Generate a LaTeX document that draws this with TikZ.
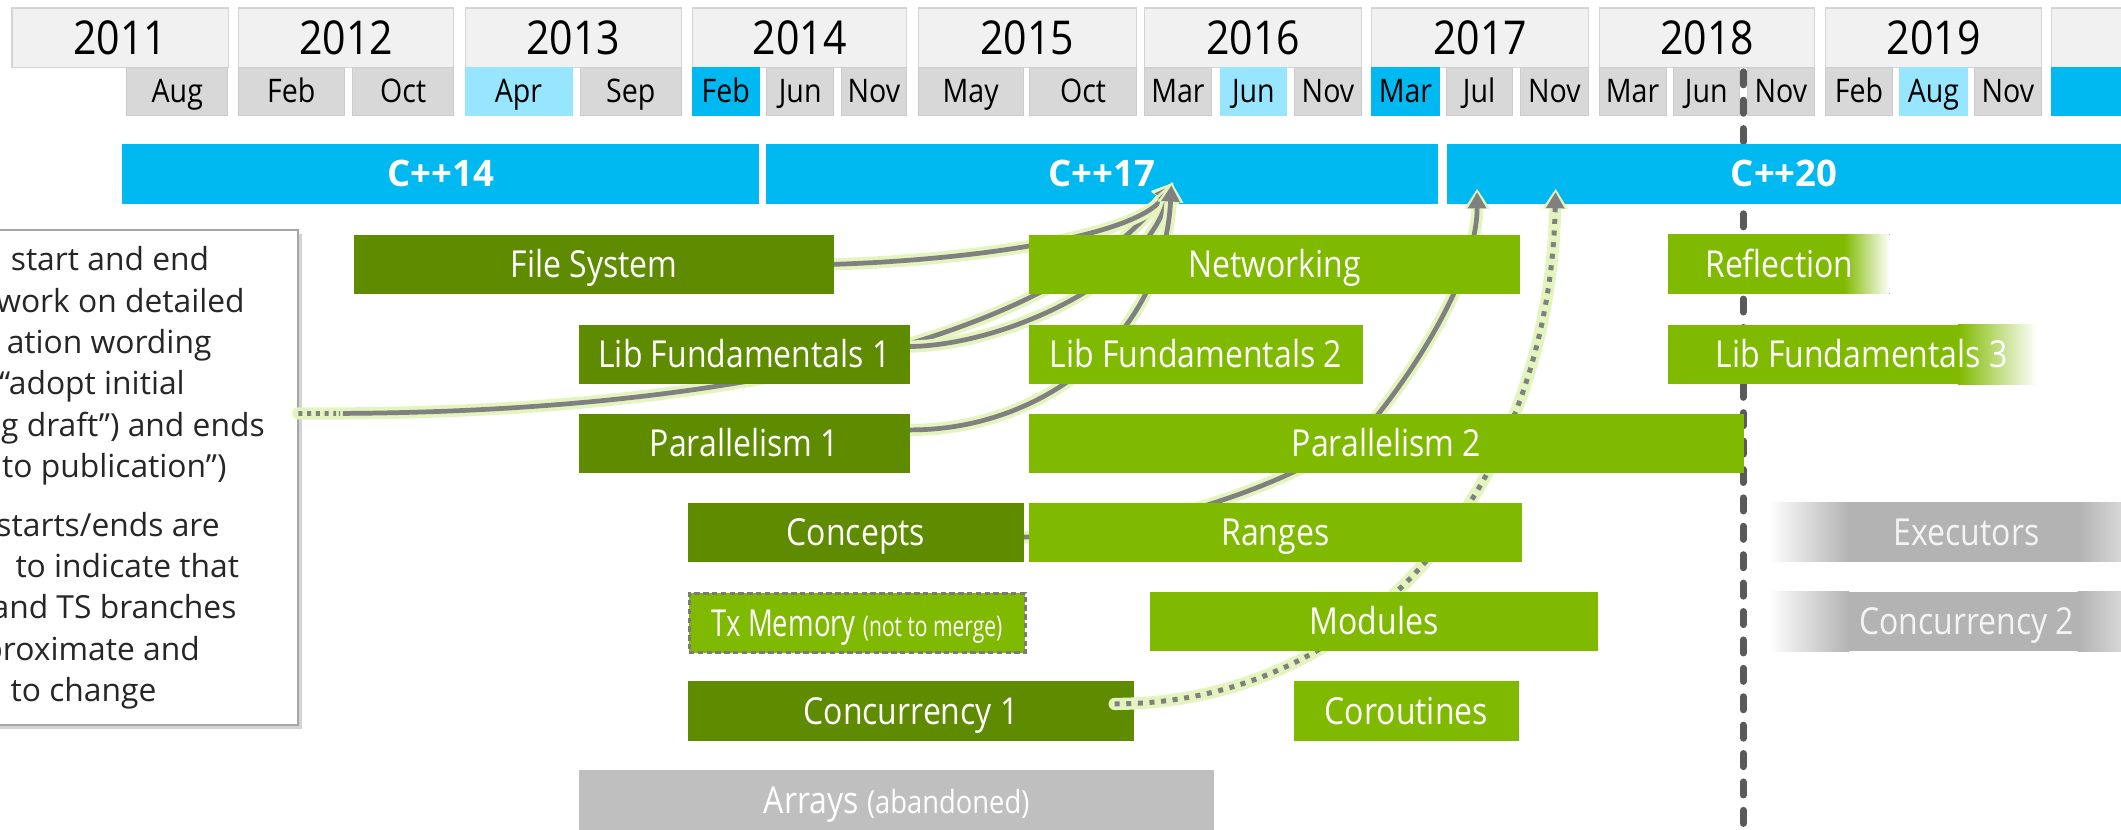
\documentclass[tikz,border=0pt]{standalone}
\usepackage{fontspec}
\usepackage{graphicx}
\setmainfont{Open Sans}
\newfontfamily\boxfont[FakeStretch=0.86]{Open Sans}
\newfontfamily\hdrfont[FakeStretch=0.88]{Open Sans}
\usetikzlibrary{arrows.meta,shadows}
\pgfdeclarelayer{back}
\pgfdeclarelayer{mid}
\pgfdeclarelayer{conn}
\pgfsetlayers{back,mid,conn,main}
\definecolor{dkg}{HTML}{5F8B00}
\definecolor{lg}{HTML}{7FBA00}
\definecolor{cblue}{HTML}{00B9F1}
\definecolor{lblue}{HTML}{97E5FE}
\definecolor{yfill}{HTML}{F1F1F1}
\definecolor{yedge}{HTML}{D4D4D4}
\definecolor{mfill}{HTML}{D8D8D8}
\definecolor{medge}{HTML}{CCCCCC}
\definecolor{gboxc}{HTML}{B3B3B3}
\definecolor{gboxr}{HTML}{D6D6D6}
\definecolor{arrfill}{HTML}{BFBFBF}
\definecolor{conngray}{HTML}{808080}
\definecolor{glowc}{HTML}{E3F4BF}
\definecolor{vline}{HTML}{5A5A5A}
\definecolor{notetext}{HTML}{262626}
\definecolor{noteedge}{HTML}{A6A6A6}
\definecolor{gtext}{HTML}{F4F4F4}
\definecolor{txedge}{HTML}{7A7A7A}
\begin{document}
\begin{tikzpicture}[x=1pt,y=-1pt,
  hdr/.style={anchor=north west, inner sep=0pt, text=black},
  yearbox/.style={hdr, draw=yedge, line width=0.8pt, fill=yfill, minimum height=44pt, font={\hdrfont\fontsize{34.5pt}{40pt}\selectfont}, text height=24.6pt, text depth=0pt},
  monbox/.style={hdr, draw=medge, line width=0.6pt, fill=mfill, minimum height=35.5pt, font={\hdrfont\fontsize{24pt}{28pt}\selectfont}, text height=17.1pt, text depth=0pt},
  lbmon/.style={monbox, fill=lblue, draw=lblue},
  bmon/.style={monbox, fill=cblue, draw=cblue},
  cbar/.style={anchor=north west, inner sep=0pt, fill=cblue, minimum height=44.3pt, text=white, font={\fontsize{27pt}{32pt}\selectfont\bfseries}, text height=19.3pt, text depth=0pt},
  gbase/.style={anchor=north west, inner sep=0pt, minimum height=44pt, text=white, font={\boxfont\fontsize{27.5pt}{33pt}\selectfont}, text height=19.6pt, text depth=0pt},
  dkbox/.style={gbase, fill=dkg},
  ltbox/.style={gbase, fill=lg},
  greybox/.style={gbase, text=gtext},
  notebox/.style={anchor=north west, fill=white, draw=noteedge, line width=1.5pt, drop shadow={shadow xshift=3pt, shadow yshift=-3pt, opacity=0.35}},
  noteline/.style={anchor=base east, inner sep=0pt, text=notetext, font={\fontsize{23.5pt}{28pt}\selectfont}},
  glow/.style={draw=glowc, line width=9pt, line cap=round, line join=round, -{Triangle[length=15pt,width=18pt]}, shorten >=-2.5pt},
  cline/.style={draw=conngray, line width=3.5pt, line cap=round, -{Triangle[length=12pt,width=13pt]}},
  vdash/.style={draw=vline, line width=5pt, line cap=round, dash pattern=on 9.8pt off 11.2pt},
]
\path[use as bounding box] (0,0) rectangle (1568,613);

\begin{pgfonlayer}{back}
\coordinate (vtop) at (1288.7,53);
\coordinate (vbot) at (1288.7,640);
\draw[vdash] (vtop) -- (vbot);
\end{pgfonlayer}

\begin{pgfonlayer}{mid}
% years
\node[yearbox, minimum width=160pt] (y11) at (8.5,5.5) {2011};
\node[yearbox, minimum width=159pt] (y12) at (176,5.5) {2012};
\node[yearbox, minimum width=160pt] (y13) at (343.5,5.5) {2013};
\node[yearbox, minimum width=158.5pt] (y14) at (511.5,5.5) {2014};
\node[yearbox, minimum width=161.1pt] (y15) at (678.5,5.5) {2015};
\node[yearbox, minimum width=160.2pt] (y16) at (846,5.5) {2016};
\node[yearbox, minimum width=160.1pt] (y17) at (1013.7,5.5) {2017};
\node[yearbox, minimum width=159.5pt] (y18) at (1181.8,5.5) {2018};
\node[yearbox, minimum width=160pt] (y19) at (1349,5.5) {2019};
\node[yearbox, minimum width=100pt] (y20) at (1516.4,5.5) {};
% months
\node[monbox, minimum width=74.5pt] (m11a) at (93.5,49.5) {Aug};
\node[monbox, minimum width=78pt] (m12f) at (176,49.5) {Feb};
\node[monbox, minimum width=74.5pt] (m12o) at (260.5,49.5) {Oct};
\node[lbmon, minimum width=79pt] (m13a) at (343.5,49.5) {Apr};
\node[monbox, minimum width=75pt] (m13s) at (428.5,49.5) {Sep};
\node[bmon, minimum width=49.5pt] (m14f) at (511.5,49.5) {Feb};
\node[monbox, minimum width=49.5pt] (m14j) at (566.5,49.5) {Jun};
\node[monbox, minimum width=48.5pt] (m14n) at (621.5,49.5) {Nov};
\node[monbox, minimum width=77.5pt] (m15m) at (678.5,49.5) {May};
\node[monbox, minimum width=78.6pt] (m15o) at (761,49.5) {Oct};
\node[monbox, minimum width=49pt] (m16m) at (846,49.5) {Mar};
\node[lbmon, minimum width=49.4pt] (m16j) at (901.6,49.5) {Jun};
\node[monbox, minimum width=49.5pt] (m16n) at (956.7,49.5) {Nov};
\node[bmon, minimum width=50pt] (m17m) at (1013.7,49.5) {Mar};
\node[monbox, minimum width=49pt] (m17j) at (1068.7,49.5) {Jul};
\node[monbox, minimum width=50.1pt] (m17n) at (1123.7,49.5) {Nov};
\node[monbox, minimum width=49.5pt] (m18m) at (1181.8,49.5) {Mar};
\node[monbox, minimum width=48.5pt] (m18j) at (1236.8,49.5) {Jun};
\node[monbox, minimum width=50pt] (m18n) at (1291.3,49.5) {Nov};
\node[monbox, minimum width=50pt] (m19f) at (1349,49.5) {Feb};
\node[lbmon, minimum width=50pt] (m19a) at (1404,49.5) {Aug};
\node[monbox, minimum width=50pt] (m19n) at (1459,49.5) {Nov};
\node[bmon, minimum width=100pt] (m20) at (1516.4,49.5) {};
% standard bars
\node[cbar, minimum width=471pt] (cpp14) at (90,106) {C++14};
\node[cbar, minimum width=497pt] (cpp17) at (566,106) {C++17};
\node[cbar, minimum width=498.4pt] (cpp20) at (1069.6,106) {C++20};
% note
\node[notebox, minimum width=229.3pt, minimum height=365.8pt] (note) at (-10,169.5) {};
\node[noteline] (n1) at (154.8,200.1) {start and end};
\node[noteline] (n2) at (181.1,230.7) {work on detailed};
\node[noteline] (n3) at (156.5,261.3) {ation wording};
\node[noteline] (n4) at (136.8,291.9) {“adopt initial};
\node[noteline] (n5) at (195.9,322.5) {g draft”) and ends};
\node[noteline] (n6) at (167.6,353.1) {to publication”)};
\node[noteline] (n7) at (162.6,396.4) {starts/ends are};
\node[noteline] (n8) at (176.9,427) {to indicate that};
\node[noteline] (n9) at (175,457.6) {and TS branches};
\node[noteline] (n10) at (147.9,488.2) {proximate and};
\node[noteline] (n11) at (115.8,518.8) {to change};
% source box drawn under its connector
\node[dkbox, minimum width=330pt] (conc1) at (508.3,503.4) {Concurrency 1};
\end{pgfonlayer}

% main boxes
\node[dkbox, minimum width=355.4pt] (fs) at (261.2,173.2) {File System};
\node[dkbox, minimum width=245.2pt] (lf1) at (427.5,240) {Lib Fundamentals 1};
\node[dkbox, minimum width=245.2pt] (par1) at (427.5,305.6) {Parallelism 1};
\node[dkbox, minimum width=248.5pt] (concepts) at (508.3,371.3) {Concepts};
\node[ltbox, minimum width=363pt] (net) at (760.5,173.2) {Networking};
\node[ltbox, minimum width=246.8pt] (lf2) at (760.5,240) {Lib Fundamentals 2};
\node[ltbox, minimum width=528.5pt] (par2) at (760.5,305.6) {Parallelism 2};
\node[ltbox, minimum width=364pt] (ranges) at (760.6,371.3) {Ranges};
\node[ltbox, draw=txedge, line width=2.2pt, dash pattern=on 4pt off 2.5pt, minimum width=248.5pt] (txmem) at (508.3,437.4) {\scalebox{0.86}[1]{Tx Memory {\fontsize{21pt}{24pt}\selectfont(not to merge)}}};
\node[ltbox, minimum width=330.8pt] (modules) at (850.2,437.4) {Modules};
\node[ltbox, minimum width=166.5pt] (corout) at (956.2,503.4) {Coroutines};
\node[gbase, fill=arrfill, minimum width=469.1pt] (arrays) at (428.1,569.2) {Arrays {\fontsize{23.5pt}{26pt}\selectfont(abandoned)}};
% fading boxes
\fill[lg] (1233.4,173.2) rectangle (1363.5,217.2);
\fill[left color=lg, right color=white] (1363,173.2) rectangle (1397,217.2);
\node[gbase, minimum width=163.6pt] (refl) at (1233.4,173.2) {Reflection};
\fill[lg] (1233.4,240) rectangle (1448,284);
\fill[left color=lg, right color=white] (1447.6,240) rectangle (1505.7,284);
\node[gbase, minimum width=285.2pt] (lf3) at (1233.4,240) {Lib Fundamentals 3};
\fill[left color=white, right color=gboxc] (1307.4,371.3) rectangle (1367,415.3);
\fill[gboxc] (1366.6,371.3) rectangle (1536.5,415.3);
\fill[left color=gboxc, right color=gboxr] (1536,371.3) rectangle (1568,415.3);
\node[greybox, minimum width=292.6pt] (exec) at (1307.4,371.3) {Executors};
\fill[left color=white, right color=gboxc] (1307.4,437.4) rectangle (1367,481.4);
\fill[gboxc] (1366.6,437.4) rectangle (1536.5,481.4);
\fill[left color=gboxc, right color=gboxr] (1536,437.4) rectangle (1568,481.4);
\node[greybox, minimum width=292.6pt] (conc2) at (1307.4,437.4) {Concurrency 2};

% connectors
\begin{pgfonlayer}{conn}
\coordinate (t17) at (866,137);
\coordinate (t20a) at (1092,142);
\coordinate (t20b) at (1150,142);
\coordinate (c3s) at (220.5,305.6);
\coordinate (c6s) at (824,520.4);
\coordinate (j5) at (1019,306);
% note -> C++17 (fuzzy start)
\draw[glow] (c3s) .. controls (540,308) and (780,250) .. (t17);
\draw[cline, line cap=butt, dash pattern=on 3pt off 3.5pt on 3pt off 3.5pt on 3pt off 3.5pt on 3pt off 3.5pt on 2pt off 2pt on 1pt off 2pt on 2000pt off 1pt] (c3s) .. controls (540,308) and (780,250) .. (t17);
% File System -> C++17
\draw[glow] (fs.east) .. controls (720,192) and (840,175) .. (t17);
\draw[cline] (fs.east) .. controls (720,192) and (840,175) .. (t17);
% Lib Fundamentals 1 -> C++17
\draw[glow] ([yshift=6pt]lf1.east) .. controls (740,255) and (845,210) .. (t17);
\draw[cline] ([yshift=6pt]lf1.east) .. controls (740,255) and (845,210) .. (t17);
% Parallelism 1 -> C++17
\draw[glow] ([yshift=10pt]par1.east) .. controls (770,318) and (860,250) .. (t17);
\draw[cline] ([yshift=10pt]par1.east) .. controls (770,318) and (860,250) .. (t17);
% Concepts -> C++20
\draw[glow] ([yshift=-3.5pt]concepts.east) .. controls (850,396) and (984,350) .. (j5) .. controls (1050,267) and (1092,200) .. (t20a);
\draw[cline] ([yshift=-3.5pt]concepts.east) .. controls (850,396) and (984,350) .. (j5) .. controls (1050,267) and (1092,200) .. (t20a);
% Concurrency 1 -> C++20 (dotted)
\draw[glow] (c6s) .. controls (1010,520) and (1145,360) .. (t20b);
\draw[cline, line cap=butt, line width=3.7pt, dash pattern=on 3.7pt off 4.9pt] (c6s) .. controls (1010,520) and (1145,360) .. (t20b);
\end{pgfonlayer}
\end{tikzpicture}
\end{document}
